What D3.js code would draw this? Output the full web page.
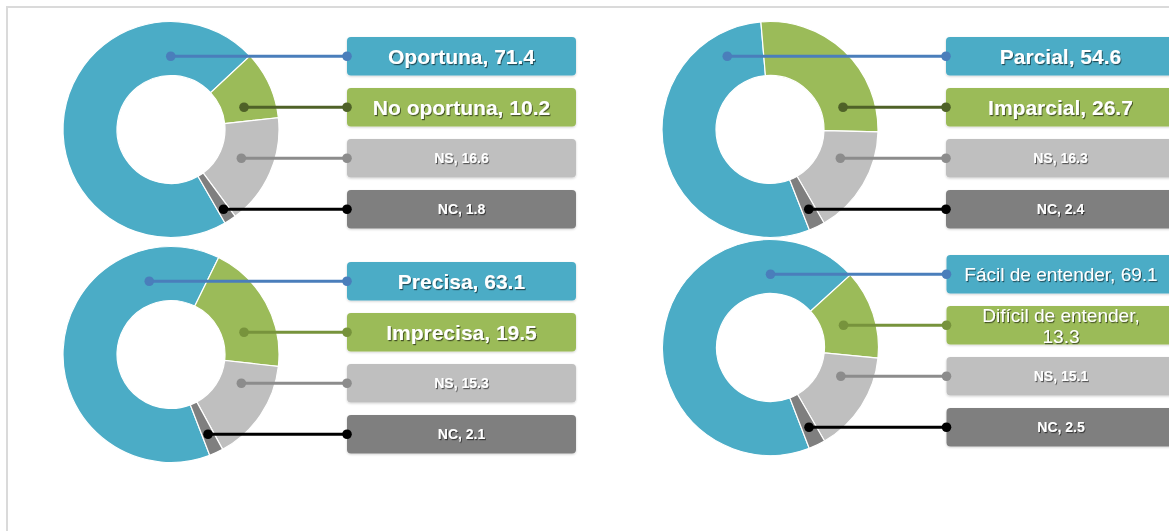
<!DOCTYPE html>
<html><head><meta charset="utf-8">
<script src="https://cdn.jsdelivr.net/npm/d3@7"></script>
<style>html,body{margin:0;padding:0;background:#fff;overflow:hidden}</style>
</head><body><svg id="c" width="1169" height="531"></svg>
<script>
// ---- data ----
const catsA = ["Oportuna", "No oportuna", "NS", "NC"];
const valsA = [71.4, 10.2, 16.6, 1.8];
const catsB = ["Parcial", "Imparcial", "NS", "NC"];
const valsB = [54.6, 26.7, 16.3, 2.4];
const catsC = ["Precisa", "Imprecisa", "NS", "NC"];
const valsC = [63.1, 19.5, 15.3, 2.1];
const catsD = ["Fácil de entender", "Difícil de entender", "NS", "NC"];
const valsD = [69.1, 13.3, 15.1, 2.5];

// ---- styles / layout ----
const sliceColors = ["#4BACC6", "#9BBB59", "#BFBFBF", "#7F7F7F"];
const dotFrac = [0.5, 0.42, 0.42, 0.5];
const panels = [
  {cats: catsA, vals: valsA, cx: 171, cy: 129.5, start: 150, lines: ["#4A7EBB", "#4F6228", "#8C8C8C", "#000000"], fs: [21, 21, 14, 14], fw: ["bold","bold","bold","bold"]},
  {cats: catsB, vals: valsB, cx: 770, cy: 129.5, start: 158.6, lines: ["#4A7EBB", "#4F6228", "#8C8C8C", "#000000"], fs: [21, 21, 14, 14], fw: ["bold","bold","bold","bold"]},
  {cats: catsC, vals: valsC, cx: 171, cy: 354.5, start: 159, lines: ["#4A7EBB", "#77933C", "#8C8C8C", "#000000"], fs: [21, 21, 14, 14], fw: ["bold","bold","bold","bold"]},
  {cats: catsD, vals: valsD, cx: 770.5, cy: 347.5, start: 159, lines: ["#4A7EBB", "#77933C", "#8C8C8C", "#000000"], fs: [19, 19, 14, 14], fw: ["normal","normal","bold","bold"]}
];
const R = 108, r0 = 54, boxDx = 176, boxW = 229, wrapW = 197.5;

const svg = d3.select("#c");
const defs = svg.append("defs");
const f = defs.append("filter").attr("id", "ts").attr("x", "-10%").attr("y", "-30%").attr("width", "120%").attr("height", "160%");
f.append("feDropShadow").attr("dx", 1).attr("dy", 1.2).attr("stdDeviation", 0.7).attr("flood-color", "#000").attr("flood-opacity", 0.55);
const fb = defs.append("filter").attr("id", "bs").attr("x", "-5%").attr("y", "-20%").attr("width", "110%").attr("height", "150%");
fb.append("feDropShadow").attr("dx", 0).attr("dy", 1).attr("stdDeviation", 1).attr("flood-color", "#000").attr("flood-opacity", 0.18);

// frame
svg.append("rect").attr("x", 7).attr("y", 7).attr("width", 1300).attr("height", 700)
  .attr("fill", "none").attr("stroke", "#DADADA").attr("stroke-width", 2);

const arc = d3.arc().innerRadius(r0).outerRadius(R);
const TAU = Math.PI * 2;

function dotX(d, dy, frac) {
  // point along the longest run of the horizontal line y=dy inside the slice
  const a0 = d.startAngle, span = d.endAngle - d.startAngle;
  let runs = [], cur = null;
  for (let x = -R; x <= R; x += 0.5) {
    const rr = Math.hypot(x, dy);
    const a = Math.atan2(x, -dy);
    const rel = ((a - a0) % TAU + TAU) % TAU;
    const inside = rr >= r0 && rr <= R && rel <= span;
    if (inside) { if (!cur) { cur = [x, x]; runs.push(cur); } else cur[1] = x; }
    else cur = null;
  }
  if (!runs.length) return 0;
  runs.sort((p, q) => (q[1] - q[0]) - (p[1] - p[0]));
  return runs[0][0] + (runs[0][1] - runs[0][0]) * frac;
}

panels.forEach(p => {
  const g = svg.append("g");
  const s = p.start * Math.PI / 180;
  const pie = d3.pie().sort(null).startAngle(s).endAngle(s + TAU);
  const arcs = pie(p.vals);
  const color = d3.scaleOrdinal().domain(p.cats).range(sliceColors);
  const lineColor = d3.scaleOrdinal().domain(p.cats).range(p.lines);

  g.append("g").attr("transform", `translate(${p.cx},${p.cy})`)
    .selectAll("path").data(arcs).join("path")
    .attr("d", arc)
    .attr("fill", (d, i) => color(p.cats[i]))
    .attr("stroke", "#fff").attr("stroke-width", 1.2);

  const y = d3.scaleBand().domain(p.cats).range([p.cy - 92.5, p.cy + 99]).paddingInner(0.245).paddingOuter(0);
  const bx = p.cx + boxDx;

  // boxes
  g.selectAll("rect.box").data(p.cats).join("rect").attr("class", "box")
    .attr("x", bx).attr("y", c => y(c)).attr("width", boxW).attr("height", y.bandwidth())
    .attr("rx", 4).attr("ry", 4).attr("fill", c => color(c)).attr("filter", "url(#bs)");

  // connectors
  p.cats.forEach((c, i) => {
    const ly = y(c) + y.bandwidth() / 2;
    const x0 = p.cx + dotX(arcs[i], ly - p.cy, dotFrac[i]);
    const lc = lineColor(c);
    g.append("line").attr("x1", x0).attr("x2", bx).attr("y1", ly).attr("y2", ly)
      .attr("stroke", lc).attr("stroke-width", 3);
    g.append("circle").attr("cx", x0).attr("cy", ly).attr("r", 4.8).attr("fill", lc);
    g.append("circle").attr("cx", bx).attr("cy", ly).attr("r", 4.8).attr("fill", lc);

    // label
    const label = c + ", " + d3.format(".1f")(p.vals[i]);
    const t = g.append("text").attr("x", bx + boxW / 2).attr("y", ly)
      .attr("text-anchor", "middle").attr("dominant-baseline", "central")
      .attr("font-family", "'Liberation Sans', Arial, sans-serif")
      .attr("font-size", p.fs[i]).attr("font-weight", p.fw[i])
      .attr("fill", "#fff").attr("filter", "url(#ts)").text(label);
    if (t.node().getComputedTextLength() > wrapW) {
      const words = label.split(" ");
      const lines = [];
      let curL = "";
      words.forEach(w => {
        const test = curL ? curL + " " + w : w;
        t.text(test);
        if (t.node().getComputedTextLength() > wrapW && curL) { lines.push(curL); curL = w; }
        else curL = test;
      });
      lines.push(curL);
      t.text(null);
      const lh = p.fs[i] * 1.08;
      lines.forEach((ln, k) => {
        t.append("tspan").attr("x", bx + boxW / 2)
          .attr("y", ly + (k - (lines.length - 1) / 2) * lh).text(ln);
      });
    }
  });
});
</script></body></html>
